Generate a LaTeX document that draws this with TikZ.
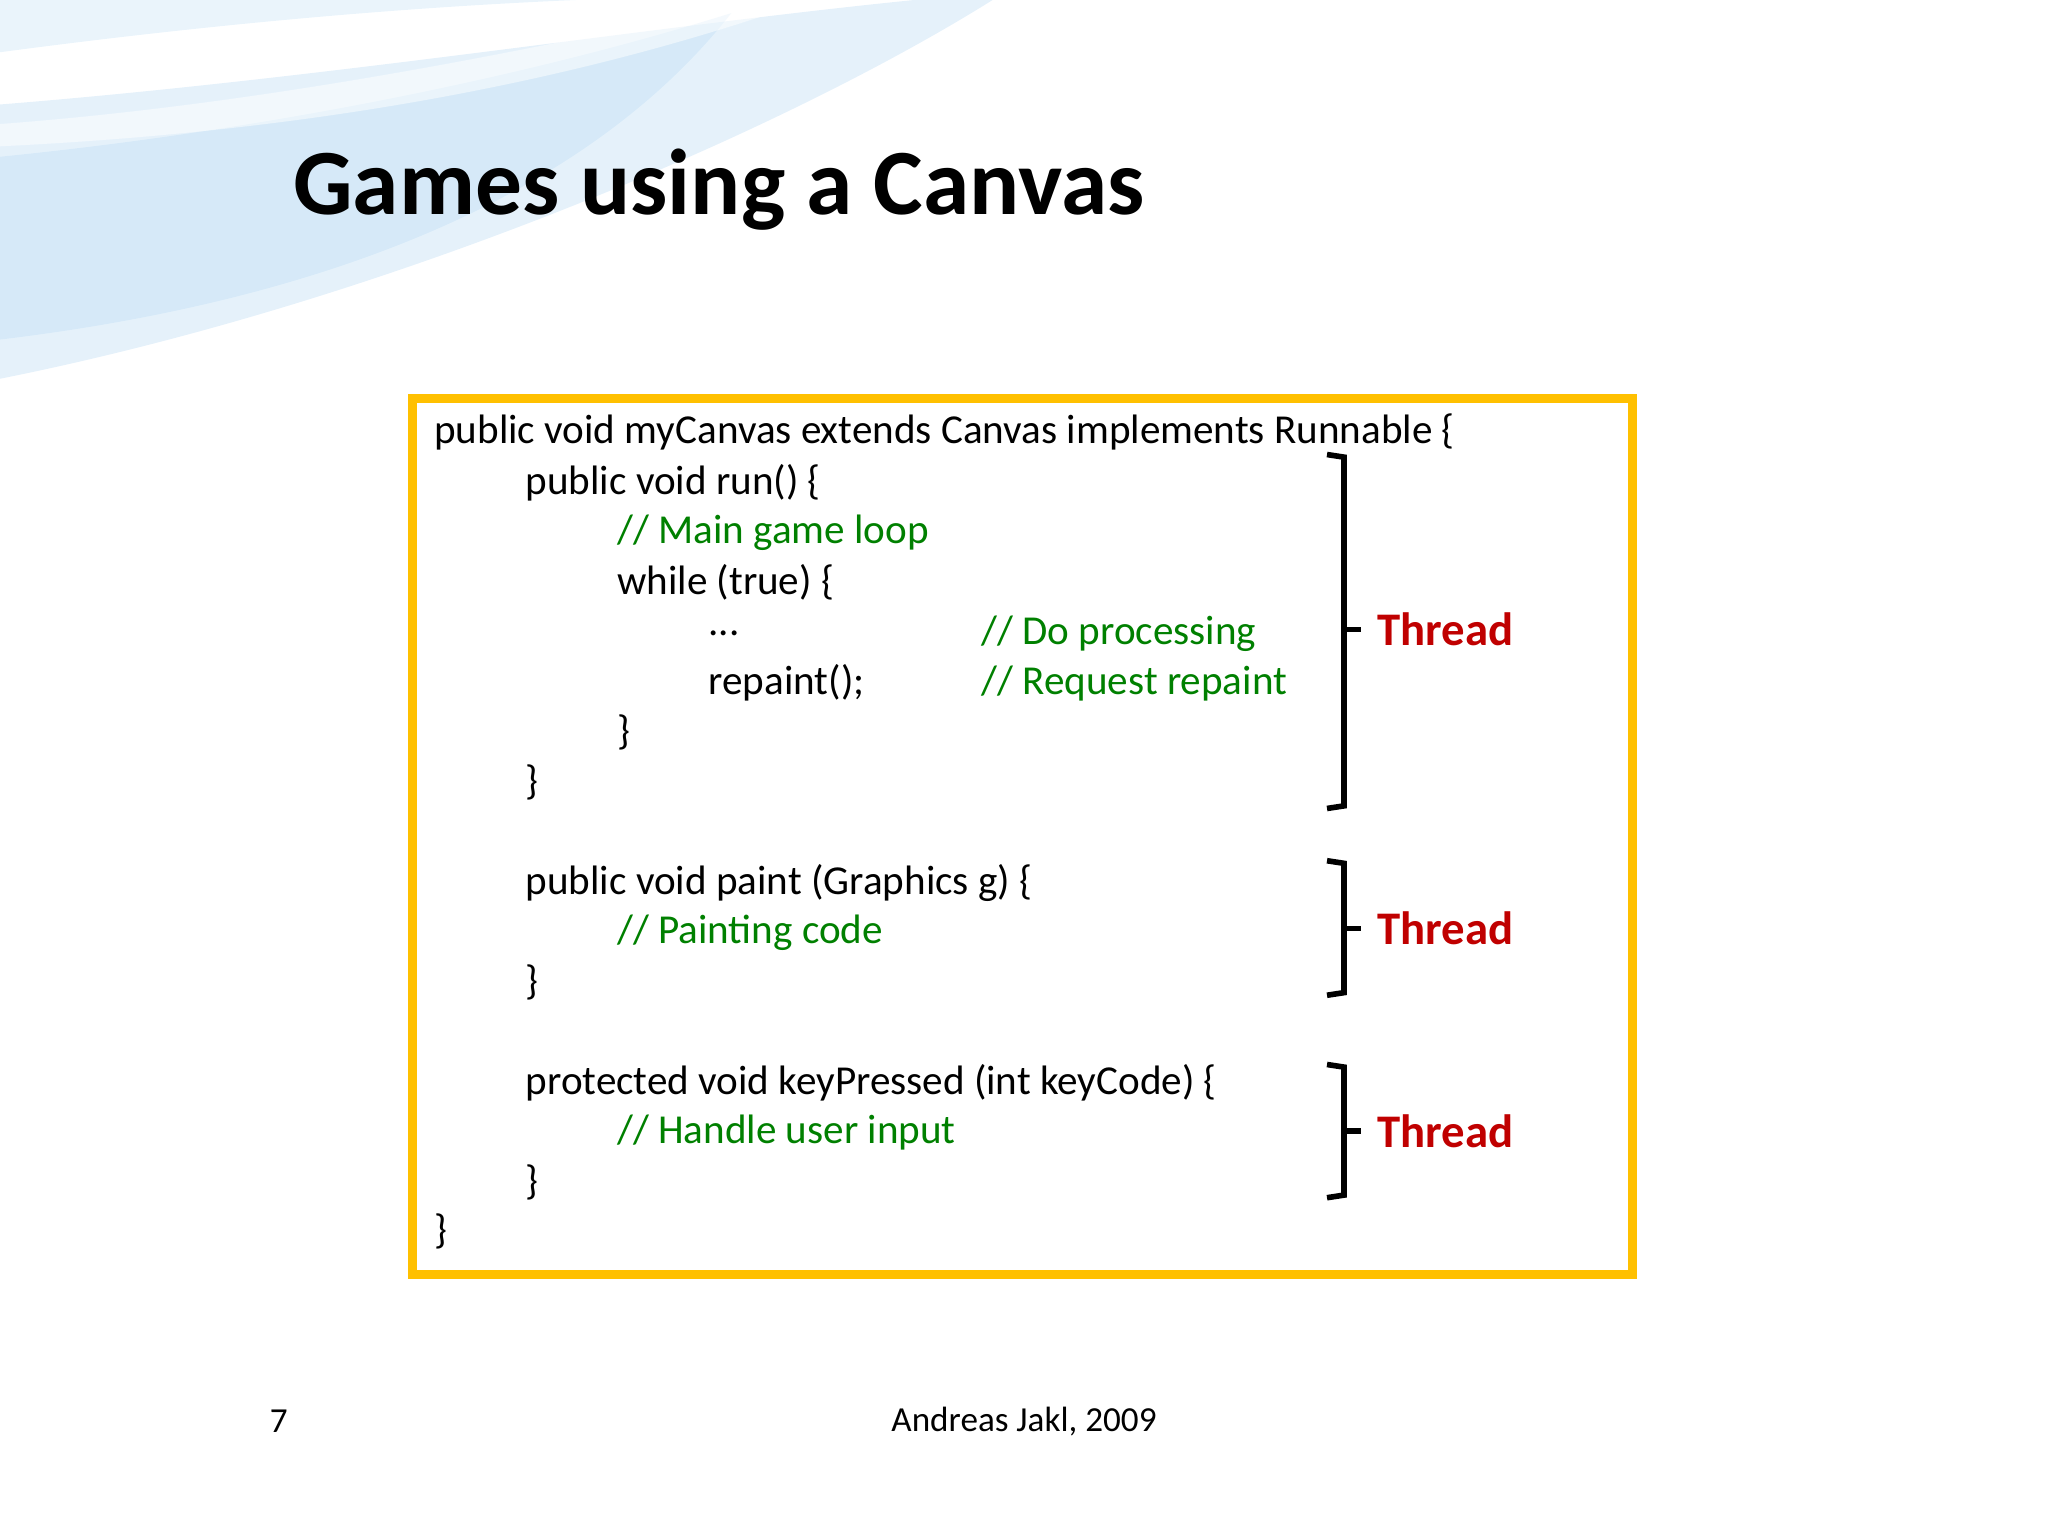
\documentclass[tikz,border=0pt]{standalone}
\usepackage{fontspec}
\setmainfont{Carlito}
\definecolor{cgreen}{RGB}{0,128,0}
\definecolor{cred}{RGB}{192,0,0}
\definecolor{cframe}{RGB}{255,192,0}
\definecolor{swoosh}{RGB}{170,210,240}
\begin{document}
\begin{tikzpicture}[x=0.01306cm,y=-0.01306cm,
  code/.style={anchor=west,inner sep=0pt,font=\fontsize{11.7}{13}\selectfont},
  cmt/.style={code,text=cgreen},
  thr/.style={anchor=west,inner sep=0pt,text=cred,font=\bfseries\fontsize{13.3}{15}\selectfont},
  brk/.style={line width=1.6pt,line join=miter}]
\useasboundingbox (0,0) rectangle (1568,1176);
% background swoosh
\fill[swoosh,opacity=0.25] (0,40) .. controls (300,0) and (550,-10) .. (760,0) -- (0,0) -- cycle;
\fill[swoosh,opacity=0.3] (0,80) .. controls (250,60) and (500,20) .. (700,0) -- (760,0) .. controls (600,100) and (300,230) .. (0,290) -- cycle;
\fill[swoosh,opacity=0.25] (0,120) .. controls (200,100) and (400,60) .. (560,10) .. controls (450,150) and (250,230) .. (0,260) -- cycle;
\fill[white,opacity=0.5] (0,95) .. controls (200,80) and (400,40) .. (580,0) -- (620,0) .. controls (450,60) and (250,100) .. (0,112) -- cycle;
\node[anchor=west,inner sep=0pt,font=\bfseries\fontsize{26.6}{30}\selectfont] (title) at (224,145) {Games using a Canvas};
\draw[cframe,line width=2.6pt] (316,305) rectangle (1250,976);
\node[code] (l1) at (332,331) {public void myCanvas extends Canvas implements Runnable \{};
\node[code] (l2) at (402,370) {public void run() \{};
\node[cmt] (l3) at (472,408) {// Main game loop};
\node[code] (l4) at (472,446) {while (true) \{};
\node[code] (l5) at (542,485) {.{}.{}.};
\node[cmt] (l5c) at (751,485) {// Do processing};
\node[code] (l6) at (542,523) {repaint();};
\node[cmt] (l6c) at (751,523) {// Request repaint};
\node[code] (l7) at (472,561) {\}};
\node[code] (l8) at (402,599) {\}};
\node[code] (l9) at (402,676) {public void paint (Graphics g) \{};
\node[cmt] (l10) at (472,714) {// Painting code};
\node[code] (l11) at (402,752) {\}};
\node[code] (l12) at (402,829) {protected void keyPressed (int keyCode) \{};
\node[cmt] (l13) at (472,867) {// Handle user input};
\node[code] (l14) at (402,905) {\}};
\node[code] (l15) at (332,943) {\}};
\draw[brk] (1016,348) -- (1029,350) -- (1029,617) -- (1016,619);
\draw[brk] (1029,482) -- (1042,482);
\draw[brk] (1016,659) -- (1029,661) -- (1029,760) -- (1016,762);
\draw[brk] (1029,711) -- (1042,711);
\draw[brk] (1016,815) -- (1029,817) -- (1029,915) -- (1016,917);
\draw[brk] (1029,866) -- (1042,866);
\node[thr] (t1) at (1054,482) {Thread};
\node[thr] (t2) at (1054,711) {Thread};
\node[thr] (t3) at (1054,866) {Thread};
\node[anchor=west,inner sep=0pt,font=\fontsize{10}{12}\selectfont] (pg) at (206,1088) {7};
\node[inner sep=0pt,font=\fontsize{10}{12}\selectfont] (auth) at (784,1088) {Andreas Jakl, 2009};
\end{tikzpicture}
\end{document}
